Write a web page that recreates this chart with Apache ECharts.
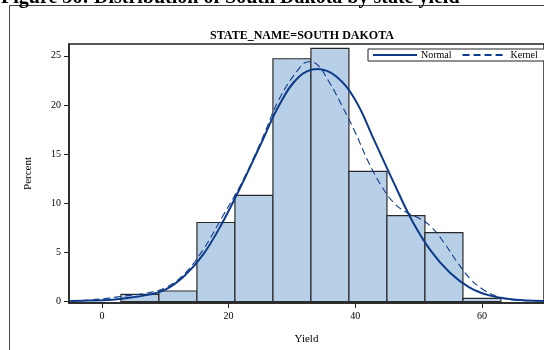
<!DOCTYPE html>
<html>
<head>
<meta charset="utf-8">
<script src="https://cdn.jsdelivr.net/npm/echarts@6/dist/echarts.min.js"></script>
<style>html,body{margin:0;padding:0;background:#fff;}#c{width:544px;height:350px;}</style>
</head>
<body>
<div id="c"></div>
<script>
// Histogram bins (Yield), width 6
var binStarts = [3, 9, 15, 21, 27, 33, 39, 45, 51, 57];
var binWidth = 6;
var binPercent = [0.73, 1.07, 8.04, 10.8, 24.7, 25.75, 13.24, 8.73, 7.0, 0.33];

// Normal curve
var normalX = [-5, -2, 1, 4, 7, 10, 13, 16, 19, 22, 25, 28, 31, 34, 37, 40, 43, 46, 49, 52, 55, 58, 61, 64, 67, 70];
var normalY = [0.05, 0.1, 0.15, 0.35, 0.65, 1.2, 2.6, 4.8, 8.0, 11.8, 15.9, 20.0, 22.8, 23.65, 22.9, 20.5, 16.4, 12.2, 8.2, 5.1, 2.9, 1.45, 0.65, 0.28, 0.1, 0.04];

// Kernel curve
var kernelX = [-5, -2, 1, 4, 7, 10, 13, 16, 19, 22, 25, 28, 31, 32.6, 34, 36, 38, 40, 42, 44, 46, 48, 50, 52, 54, 56, 58, 60, 62, 64, 66, 70];
var kernelY = [0.03, 0.15, 0.35, 0.6, 0.85, 1.4, 2.8, 5.3, 8.6, 12.0, 16.1, 20.6, 23.6, 24.4, 24.1, 22.2, 19.8, 17.2, 14.3, 11.9, 10.1, 9.1, 8.5, 7.6, 6.0, 4.1, 2.4, 1.3, 0.6, 0.25, 0.12, 0.05];

var xTicks = [0, 20, 40, 60];
var yTicks = [0, 5, 10, 15, 20, 25];

var chartTitle = 'STATE_NAME=SOUTH DAKOTA';
var figureTitle = 'Figure 36: Distribution of South Dakota by state yield';

function zip(a, b) { return a.map(function (v, i) { return [v, b[i]]; }); }

var barData = binStarts.map(function (s, i) { return [s, s + binWidth, binPercent[i]]; });

var serif = '"Liberation Serif", "DejaVu Serif", serif';
var curveColor = '#0d3b8a';

var chart = echarts.init(document.getElementById('c'), null, {renderer: 'canvas'});
chart.setOption({
  animation: false,
  backgroundColor: '#fff',
  title: {
    text: chartTitle,
    left: 297, top: 25, textAlign: 'center',
    textStyle: {fontFamily: serif, fontSize: 12, fontWeight: 'bold', color: '#000'}
  },
  graphic: [
    {type: 'rect', shape: {x: 9.5, y: 5.5, width: 600, height: 400}, style: {fill: null, stroke: '#444', lineWidth: 1}, z: 100, silent: true},
    {type: 'text', x: 1, y: 8, style: {text: figureTitle, font: 'bold 20px ' + serif, fill: '#000', verticalAlign: 'bottom'}, z: 101}
  ],
  legend: {
    data: ['Normal', 'Kernel'],
    left: 368, top: 49, width: 200,
    orient: 'horizontal',
    borderColor: '#222', borderWidth: 1,
    backgroundColor: '#fff',
    padding: [1, 8, 1, 4],
    itemWidth: 44, itemHeight: 8, itemGap: 10,
    itemStyle: {opacity: 0},
    textStyle: {fontFamily: serif, fontSize: 10, color: '#000', padding: [0, 0, 0, -1]}
  },
  grid: {left: 69, top: 44, right: -3, bottom: 44, show: true, borderColor: '#222', borderWidth: 1.5},
  xAxis: {
    type: 'value', min: -5.2, max: 69.8,
    name: 'Yield', nameLocation: 'middle', nameGap: 31,
    nameTextStyle: {fontFamily: serif, fontSize: 11, color: '#000'},
    axisLine: {onZero: false, lineStyle: {color: '#222', width: 1.5}},
    axisTick: {show: true, length: 5, lineStyle: {color: '#222'}, customValues: xTicks},
    axisLabel: {fontFamily: serif, fontSize: 10, color: '#000', margin: 8, customValues: xTicks},
    splitLine: {show: false}
  },
  yAxis: {
    type: 'value', min: -0.15, max: 26.2,
    name: 'Percent', nameLocation: 'middle', nameGap: 35,
    nameTextStyle: {fontFamily: serif, fontSize: 11, color: '#000'},
    axisLine: {show: true, onZero: false, lineStyle: {color: '#222', width: 1.5}},
    axisTick: {show: true, length: 5, lineStyle: {color: '#222'}, customValues: yTicks},
    axisLabel: {fontFamily: serif, fontSize: 10, color: '#000', margin: 8, customValues: yTicks},
    splitLine: {show: false}
  },
  series: [
    {
      name: 'Histogram', type: 'custom', data: barData,
      encode: {x: [0, 1], y: 2},
      renderItem: function (params, api) {
        var p0 = api.coord([api.value(0), 0]);
        var p1 = api.coord([api.value(1), api.value(2)]);
        return {
          type: 'rect',
          shape: {x: p0[0], y: p1[1], width: p1[0] - p0[0], height: p0[1] - p1[1]},
          style: {fill: '#b8cfe8', stroke: '#2a2a2a', lineWidth: 1.2}
        };
      },
      z: 1
    },
    {
      name: 'Normal', type: 'line', data: zip(normalX, normalY), smooth: 0.4,
      symbol: 'none', lineStyle: {color: curveColor, width: 2}, itemStyle: {color: curveColor}, z: 3
    },
    {
      name: 'Kernel', type: 'line', data: zip(kernelX, kernelY), smooth: 0.4,
      symbol: 'none', lineStyle: {color: curveColor, width: 1.1, type: [7, 4]}, itemStyle: {color: curveColor}, z: 3
    }
  ]
});
</script>
</body>
</html>
